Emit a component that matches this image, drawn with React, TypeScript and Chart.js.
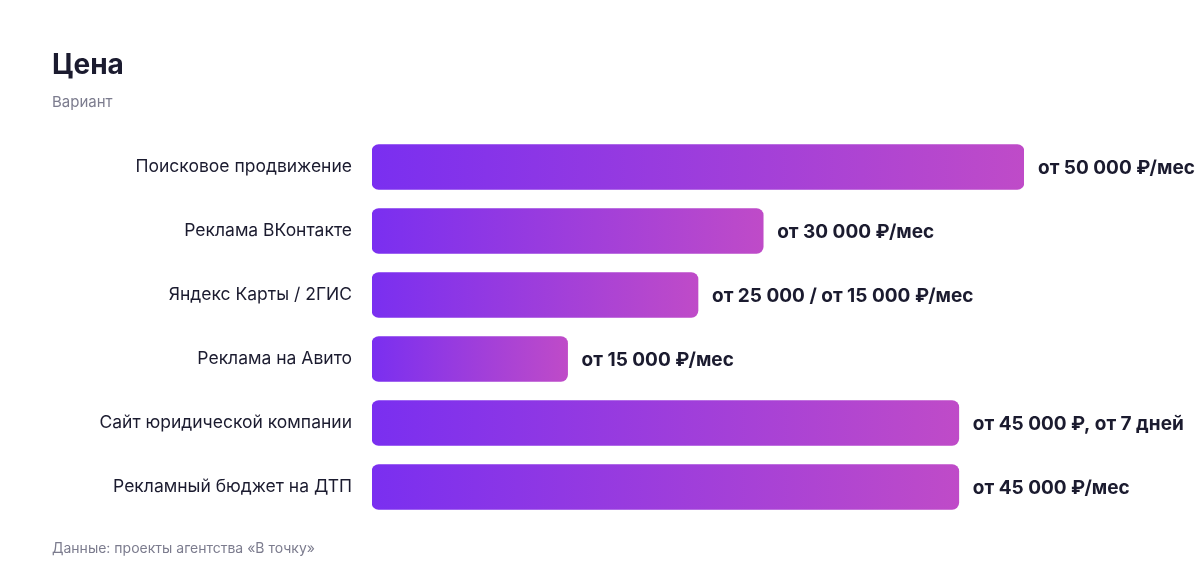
import React, { useEffect, useRef } from "react";
import { Chart, registerables } from "chart.js";

Chart.register(...registerables);

const categories = [
  "Поисковое продвижение",
  "Реклама ВКонтакте",
  "Яндекс Карты / 2ГИС",
  "Реклама на Авито",
  "Сайт юридической компании",
  "Рекламный бюджет на ДТП",
];
const prices = [50000, 30000, 25000, 15000, 45000, 45000];
const valueLabels = [
  "от 50 000 ₽/мес",
  "от 30 000 ₽/мес",
  "от 25 000 / от 15 000 ₽/мес",
  "от 15 000 ₽/мес",
  "от 45 000 ₽, от 7 дней",
  "от 45 000 ₽/мес",
];

const FONT = "Inter, 'Noto Sans', sans-serif";
const DARK = "#1b1b2f";

export default function App() {
  const ref = useRef<HTMLCanvasElement | null>(null);
  useEffect(() => {
    if (!ref.current) return;
    const labelPlugin = {
      id: "valueLabels",
      afterDatasetsDraw(chart: any) {
        const ctx = chart.ctx;
        const meta = chart.getDatasetMeta(0);
        ctx.save();
        ctx.font = `bold 19px ${FONT}`;
        ctx.fillStyle = DARK;
        ctx.textAlign = "left";
        ctx.textBaseline = "middle";
        meta.data.forEach((bar: any, i: number) => {
          ctx.fillText(valueLabels[i], bar.x + 14, bar.y + 1);
        });
        ctx.restore();
      },
    };
    const chart = new Chart(ref.current, {
      type: "bar",
      data: {
        labels: categories,
        datasets: [
          {
            data: prices,
            backgroundColor: (c: any) => {
              const chartObj = c.chart;
              const area = chartObj.chartArea;
              if (!area || c.dataIndex === undefined) return "#8a35e8";
              const xs = chartObj.scales.x;
              const x0 = xs.getPixelForValue(0);
              const x1 = xs.getPixelForValue(prices[c.dataIndex]);
              const g = chartObj.ctx.createLinearGradient(x0, 0, x1, 0);
              g.addColorStop(0, "#7a2ff0");
              g.addColorStop(1, "#bf4bc8");
              return g;
            },
            borderRadius: 7,
            borderSkipped: false,
            barThickness: 45,
          },
        ],
      },
      options: {
        indexAxis: "y",
        animation: false,
        responsive: false,
        layout: { padding: { left: 0, right: 176, top: 135, bottom: 65 } },
        plugins: {
          legend: { display: false },
          tooltip: { enabled: false },
        },
        scales: {
          x: { display: false, min: 0, max: 50000 },
          y: {
            grid: { display: false },
            border: { display: false },
            ticks: {
              padding: 12,
              color: DARK,
              font: { family: FONT, size: 17.5 },
            },
            afterFit(scale: any) {
              scale.width = 372;
            },
          },
        },
      },
      plugins: [labelPlugin],
    } as any);
    return () => chart.destroy();
  }, []);

  return (
    <div style={{ position: "absolute", left: 0, top: 0, width: 1200, height: 584, background: "#fff", fontFamily: FONT }}>
      <canvas ref={ref} width={1200} height={584} style={{ position: "absolute", left: 0, top: 0 }} />
      <div style={{ position: "absolute", left: 52, top: 46, fontSize: 28, fontWeight: 700, color: DARK, lineHeight: "36px" }}>
        Цена
      </div>
      <div style={{ position: "absolute", left: 52, top: 93, fontSize: 15, color: "#7c7c8e", lineHeight: "18px" }}>
        Вариант
      </div>
      <div style={{ position: "absolute", left: 52, top: 540, fontSize: 14, color: "#7c7c8e", lineHeight: "16px" }}>
        Данные: проекты агентства «В точку»
      </div>
    </div>
  );
}
